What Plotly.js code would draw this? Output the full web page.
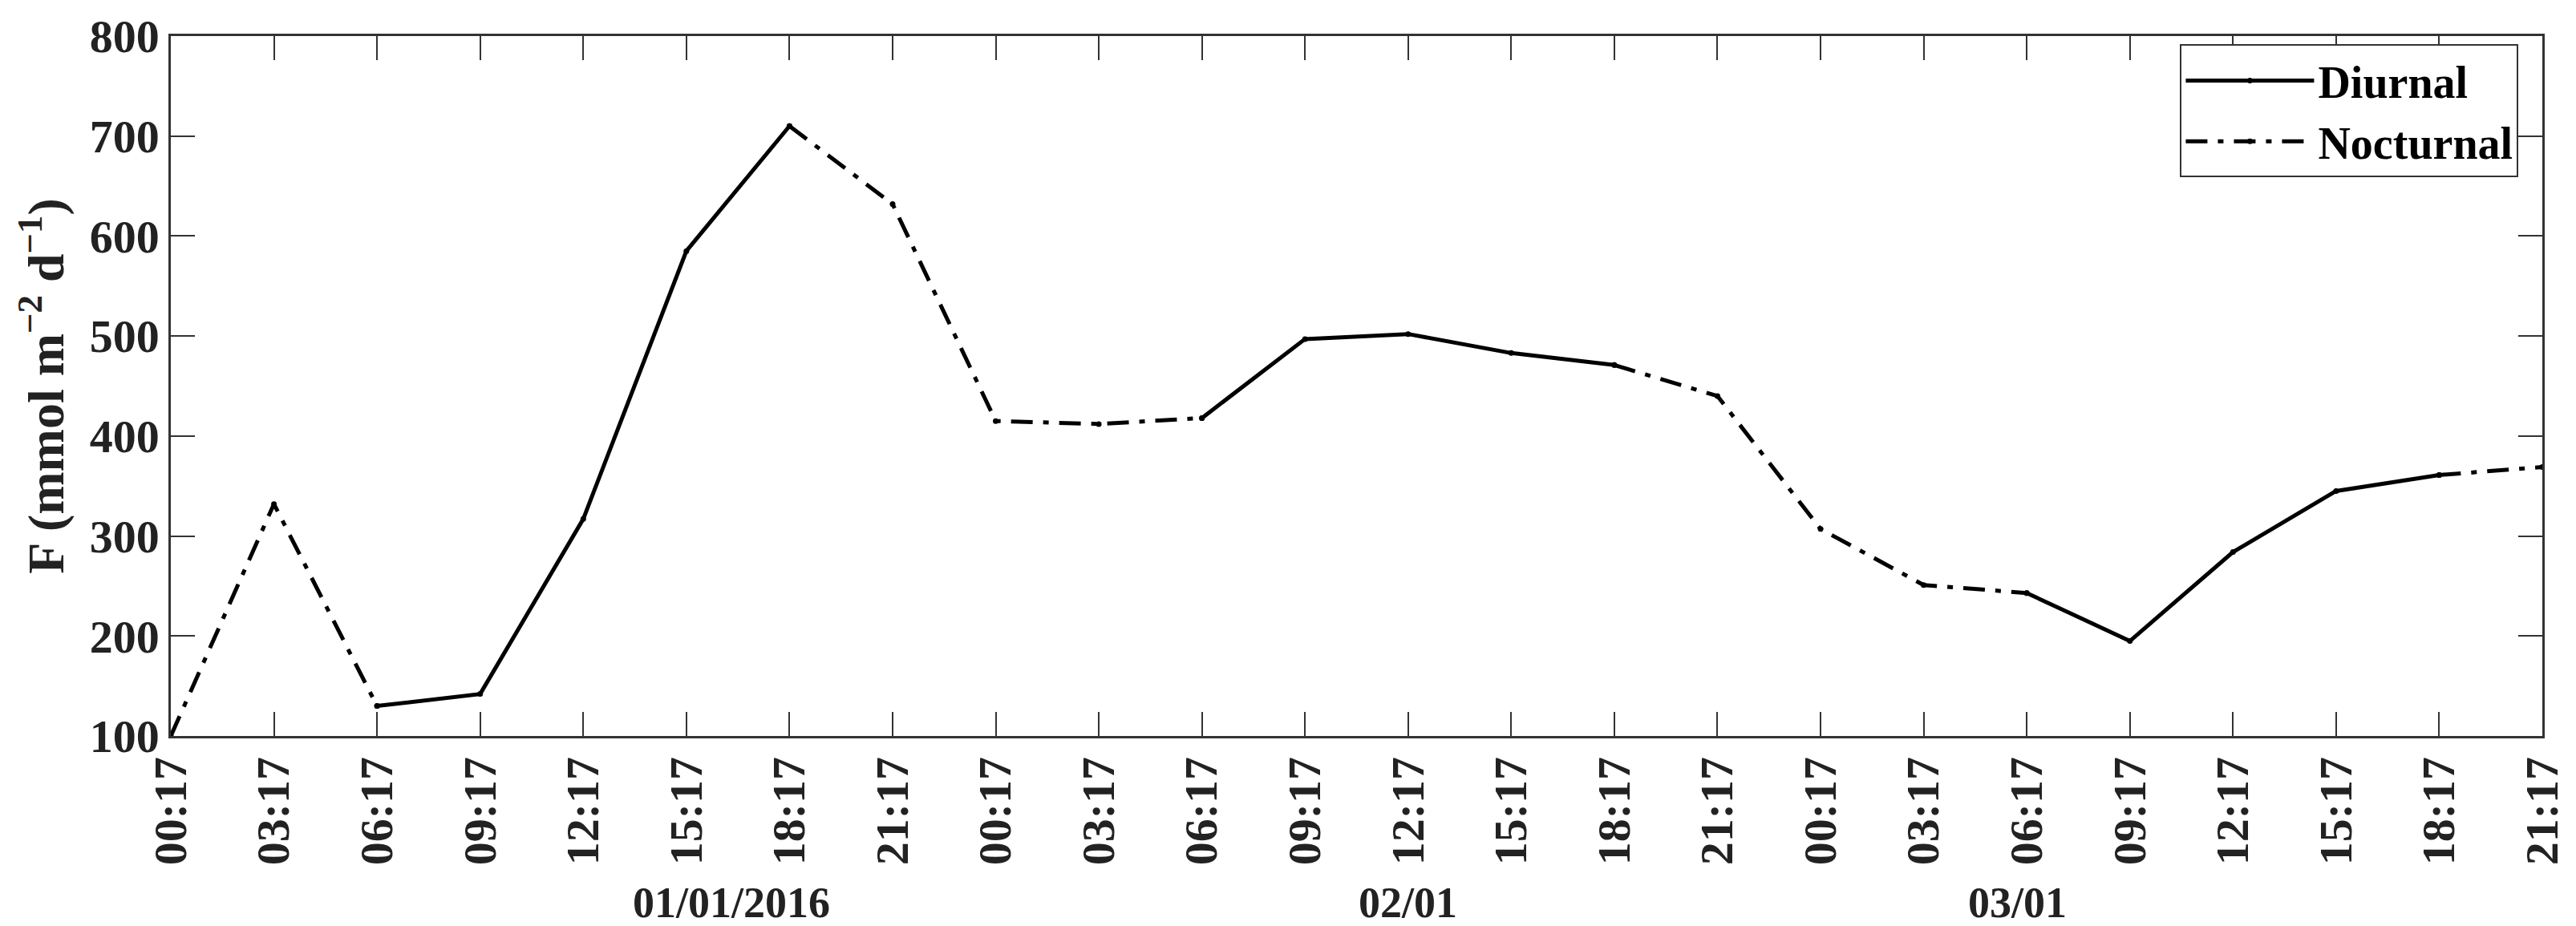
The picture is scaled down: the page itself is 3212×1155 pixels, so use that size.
<!DOCTYPE html>
<html>
<head>
<meta charset="utf-8">
<script src="https://cdn.plot.ly/plotly-3.0.1.min.js"></script>
<style>
  html, body { margin: 0; padding: 0; background: #fff; }
  #chart { width: 3212px; height: 1155px; }
</style>
</head>
<body>
<div id="chart"></div>
<script>
// Sampling times (every 3 h, three days)
const times = [
    '2016-01-01 00:17', '2016-01-01 03:17', '2016-01-01 06:17', '2016-01-01 09:17',
    '2016-01-01 12:17', '2016-01-01 15:17', '2016-01-01 18:17', '2016-01-01 21:17',
    '2016-01-02 00:17', '2016-01-02 03:17', '2016-01-02 06:17', '2016-01-02 09:17',
    '2016-01-02 12:17', '2016-01-02 15:17', '2016-01-02 18:17', '2016-01-02 21:17',
    '2016-01-03 00:17', '2016-01-03 03:17', '2016-01-03 06:17', '2016-01-03 09:17',
    '2016-01-03 12:17', '2016-01-03 15:17', '2016-01-03 18:17', '2016-01-03 21:17'
];

// Flux F (mmol m-2 d-1)
const flux = [
    100, 332, 130, 142, 317, 585, 710, 632,
    415, 412, 418, 497, 502, 483, 471, 440,
    307, 251, 243, 195, 284, 345, 361, 369
];

// Day labels under the time ticks
const dayLabels = ['01/01/2016', '02/01', '03/01'];
const dayLabelTimes = ['2016-01-01 16:35', '2016-01-02 12:17', '2016-01-03 06:00'];

// Diurnal = 06:17..18:17, nocturnal = 18:17..06:17 (both share the end points)
const hourOf = t => parseInt(t.slice(11, 13), 10);
const diurnal = flux.map((v, i) => (hourOf(times[i]) >= 6 && hourOf(times[i]) <= 18) ? v : null);
const nocturnal = flux.map((v, i) => (hourOf(times[i]) >= 18 || hourOf(times[i]) <= 6) ? v : null);

const fontFamily = '"Liberation Serif", "Times New Roman", serif';

const data = [
    {
        type: 'scatter',
        mode: 'lines+markers',
        x: times,
        y: diurnal,
        name: 'Diurnal',
        connectgaps: false,
        line: { color: '#000', width: 5 },
        marker: { color: '#000', size: 7 }
    },
    {
        type: 'scatter',
        mode: 'lines+markers',
        x: times,
        y: nocturnal,
        name: 'Nocturnal',
        connectgaps: false,
        line: { color: '#000', width: 5, dash: '27px,13px,7px,13px' },
        marker: { color: '#000', size: 7 }
    }
];

const annotations = dayLabels.map((label, i) => ({
    x: dayLabelTimes[i],
    xref: 'x',
    y: -0.238,
    yref: 'paper',
    yanchor: 'middle',
    xanchor: 'center',
    text: label,
    showarrow: false,
    font: { family: fontFamily, size: 54, weight: 'bold', color: '#222' }
}));

const layout = {
    width: 3212,
    height: 1155,
    paper_bgcolor: '#fff',
    plot_bgcolor: '#fff',
    margin: { l: 213, r: 42, t: 45, b: 237, pad: 0 },
    font: { family: fontFamily, color: '#222' },
    showlegend: true,
    legend: {
        x: 0.99,
        y: 0.988,
        xanchor: 'right',
        yanchor: 'top',
        bgcolor: '#fff',
        bordercolor: '#333',
        borderwidth: 2,
        itemwidth: 160,
        tracegroupgap: 0,
        font: { family: fontFamily, size: 56, weight: 'bold', color: '#000' }
    },
    xaxis: {
        type: 'date',
        range: [times[0], times[times.length - 1]],
        tickmode: 'array',
        tickvals: times,
        ticktext: times.map(t => t.slice(11)),
        tickangle: -90,
        ticks: 'inside',
        ticklen: 30,
        tickwidth: 2,
        tickcolor: '#333',
        showline: true,
        linecolor: '#333',
        linewidth: 2.5,
        mirror: 'ticks',
        showgrid: false,
        zeroline: false,
        tickfont: { family: fontFamily, size: 58, weight: 'bold', color: '#222' }
    },
    yaxis: {
        range: [100, 800],
        dtick: 100,
        ticks: 'inside',
        ticklen: 30,
        tickwidth: 2,
        tickcolor: '#333',
        showline: true,
        linecolor: '#333',
        linewidth: 2.5,
        mirror: 'ticks',
        showgrid: false,
        zeroline: false,
        tickformat: 'd',
        tickfont: { family: fontFamily, size: 58, weight: 'bold', color: '#222' },
        title: {
            text: 'F (mmol m<sup>\u22122</sup> d<sup>\u22121</sup>)',
            standoff: 12,
            font: { family: fontFamily, size: 64, weight: 'bold', color: '#222' }
        }
    },
    annotations: annotations
};

Plotly.newPlot('chart', data, layout, { displayModeBar: false, responsive: false });
</script>
</body>
</html>
